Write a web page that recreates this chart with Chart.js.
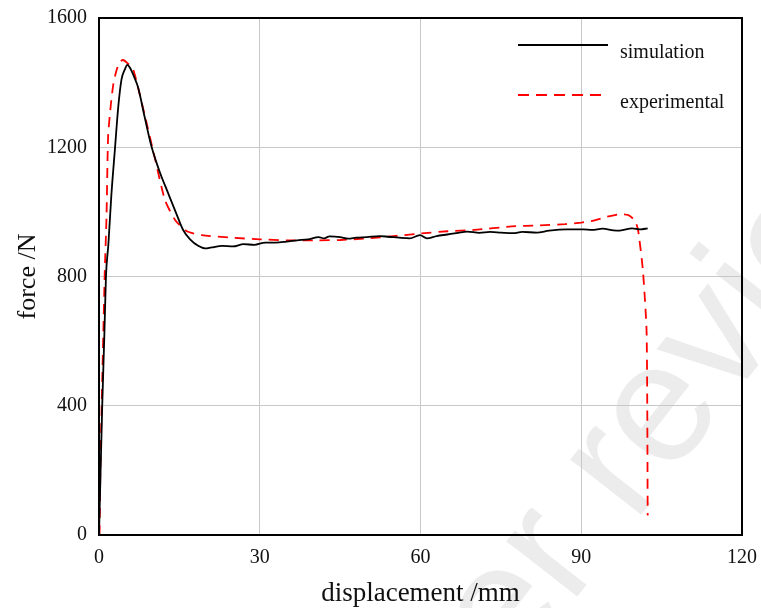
<!DOCTYPE html>
<html>
<head>
<meta charset="utf-8">
<script src="https://cdn.jsdelivr.net/npm/chart.js@4/dist/chart.umd.min.js"></script>
<style>
  html, body { margin: 0; padding: 0; background: #fff; }
  #wrap { width: 761px; height: 608px; }
</style>
</head>
<body>
<div id="wrap"><canvas id="forceChart" width="761" height="608"></canvas></div>
<script>
// simulation curve (black)
var simX = [0, 0.3, 0.6, 1.0, 1.3, 1.75, 2.3, 3.0, 3.6, 4.2, 4.8, 5.3, 5.8, 6.5, 7.3, 8.5, 9.8, 11.3, 12.9, 14.3, 15.7, 17.0, 18.5, 19.8, 21, 23, 25, 27, 29, 31, 33, 35, 37, 39, 41, 42, 43, 45, 46.5, 48, 50, 52.4, 54, 56, 58, 59.9, 61.2, 63, 65, 67, 68.7, 71, 73, 75, 77.3, 79, 81.7, 84, 87.3, 90.4, 92, 94, 96, 97.2, 99.5, 101, 102.4];
var simY = [0, 200, 400, 620, 800, 900, 1050, 1200, 1326, 1410, 1440, 1455, 1445, 1420, 1385, 1295, 1202, 1125, 1058, 1000, 944, 915, 895, 887, 890, 895, 893, 900, 898, 905, 905, 908, 912, 915, 922, 918, 924, 922, 917, 920, 922, 925, 923, 920, 918, 928, 918, 925, 930, 935, 939, 935, 938, 936, 934, 938, 936, 942, 946, 946, 944, 948, 943, 942, 949, 946, 949];

// experimental curve (red dashed)
var expX = [0.1, 0.25, 0.5, 0.8, 1.06, 1.4, 1.7, 2.2, 2.7, 3.3, 3.9, 4.5, 5.2, 6.4, 7.5, 8.6, 10.5, 12.3, 14.2, 16.4, 19.2, 25, 30, 35, 41, 45, 50, 55, 60, 65, 70, 77, 82, 87, 90, 92.3, 94.8, 97.2, 98.8, 100, 100.6, 101.5, 102.2, 102.4];
var expY = [0, 200, 400, 620, 805, 985, 1233, 1330, 1398, 1440, 1465, 1470, 1462, 1439, 1370, 1295, 1161, 1037, 975, 940, 928, 920, 915, 912, 912, 913, 918, 925, 933, 940, 944, 955, 958, 962, 967, 973, 985, 993, 990, 973, 944, 820, 625, 60];

var xTicks = [0, 30, 60, 90, 120];
var yTicks = [0, 400, 800, 1200, 1600];
var seriesNames = ['simulation', 'experimental'];

var serif = '"Liberation Serif", "Times New Roman", serif';

function toPoints(xs, ys) {
    return xs.map(function (x, i) { return { x: x, y: ys[i] }; });
}

// white page + faint watermark behind everything
var backdrop = {
    id: 'backdrop',
    beforeDraw: function (chart) {
        var ctx = chart.ctx;
        ctx.save();
        ctx.fillStyle = '#ffffff';
        ctx.fillRect(0, 0, chart.width, chart.height);
        ctx.translate(634, 524);
        ctx.rotate(-52 * Math.PI / 180);
        ctx.font = '170px "Liberation Sans", Arial, sans-serif';
        ctx.fillStyle = '#ececec';
        ctx.textBaseline = 'alphabetic';
        ctx.textAlign = 'left';
        ctx.fillText('review', 0, 0);
        ctx.textAlign = 'right';
        ctx.fillText('Peer ', 0, 0);
        ctx.restore();
    }
};

// box frame + legend inside plot
var frameAndLegend = {
    id: 'frameAndLegend',
    afterDraw: function (chart) {
        var ctx = chart.ctx;
        var a = chart.chartArea;
        ctx.save();
        ctx.strokeStyle = '#000';
        ctx.lineWidth = 2;
        ctx.strokeRect(a.left, a.top, a.right - a.left, a.bottom - a.top);

        var rows = [
            { y: 45, color: '#000', dash: [] },
            { y: 95, color: '#ff0000', dash: [11, 7] }
        ];
        ctx.font = '20px ' + serif;
        ctx.textBaseline = 'middle';
        ctx.textAlign = 'left';
        rows.forEach(function (r, i) {
            ctx.beginPath();
            ctx.setLineDash(r.dash);
            ctx.strokeStyle = r.color;
            ctx.lineWidth = 2;
            ctx.moveTo(518, r.y);
            ctx.lineTo(608, r.y);
            ctx.stroke();
            ctx.setLineDash([]);
            ctx.fillStyle = '#111';
            ctx.fillText(seriesNames[i], 620, r.y + 8);
        });
        ctx.restore();
    }
};

var ctx = document.getElementById('forceChart').getContext('2d');
var forceChart = new Chart(ctx, {
    type: 'line',
    data: {
        datasets: [{
            label: seriesNames[0],
            data: toPoints(simX, simY),
            borderColor: '#000000',
            borderWidth: 1.8,
            pointRadius: 0,
            cubicInterpolationMode: 'monotone',
            fill: false
        }, {
            label: seriesNames[1],
            data: toPoints(expX, expY),
            borderColor: '#ff0000',
            borderWidth: 1.8,
            borderDash: [10, 7],
            pointRadius: 0,
            tension: 0.2,
            fill: false
        }]
    },
    options: {
        responsive: false,
        animation: false,
        layout: { padding: { left: 8, right: 19, top: 18, bottom: 0 } },
        plugins: {
            legend: { display: false },
            tooltip: { enabled: false }
        },
        scales: {
            x: {
                type: 'linear',
                min: 0,
                max: 120,
                afterBuildTicks: function (scale) {
                    scale.ticks = xTicks.map(function (v) { return { value: v }; });
                },
                afterFit: function (scale) {
                    scale.height = 73;
                    scale.paddingLeft = 0;
                    scale.paddingRight = 0;
                },
                grid: { color: '#c8c8c8', lineWidth: 1, drawTicks: false },
                border: { display: false },
                ticks: {
                    padding: 11,
                    color: '#111',
                    font: { family: serif, size: 20 },
                    maxRotation: 0,
                    callback: function (v) { return String(v); }
                },
                title: {
                    display: true,
                    text: 'displacement /mm',
                    color: '#111',
                    font: { family: serif, size: 27, lineHeight: 1.05 },
                    padding: { top: 0, bottom: 0 }
                }
            },
            y: {
                type: 'linear',
                min: 0,
                max: 1600,
                afterBuildTicks: function (scale) {
                    scale.ticks = yTicks.map(function (v) { return { value: v }; });
                },
                afterFit: function (scale) {
                    scale.width = 91;
                    scale.paddingTop = 0;
                    scale.paddingBottom = 0;
                },
                grid: { color: '#c8c8c8', lineWidth: 1, drawTicks: false },
                border: { display: false },
                ticks: {
                    padding: 12,
                    color: '#111',
                    font: { family: serif, size: 20 },
                    callback: function (v) { return String(v); }
                },
                title: {
                    display: true,
                    text: 'force /N',
                    color: '#111',
                    font: { family: serif, size: 26 },
                    padding: { top: 5, bottom: 0 }
                }
            }
        }
    },
    plugins: [backdrop, frameAndLegend]
});
</script>
</body>
</html>
